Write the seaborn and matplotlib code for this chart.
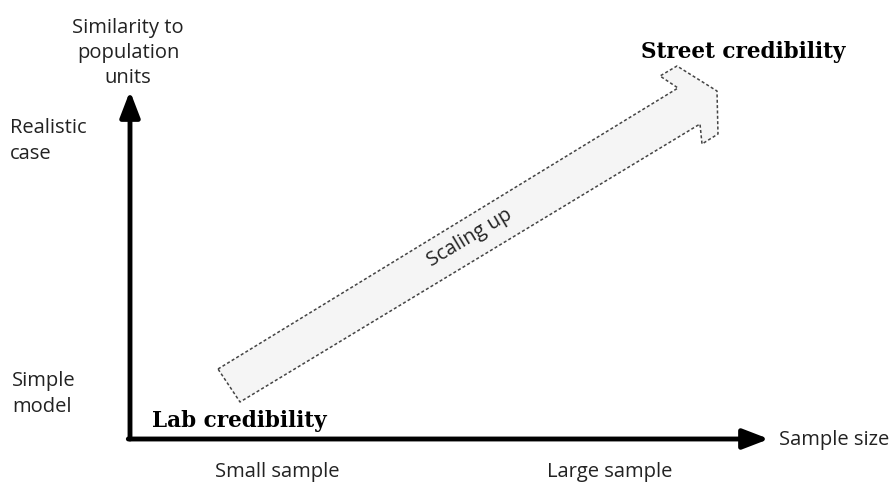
import matplotlib
matplotlib.use("Agg")
import matplotlib.pyplot as plt
import seaborn as sns
import pandas as pd
from matplotlib.patches import Polygon

# ---- data (conceptual diagram, pixel-space coordinates of the canvas) ----
axis_labels = ["Similarity to\npopulation\nunits", "Sample size"]
y_levels = ["Realistic\ncase", "Simple\nmodel"]
x_levels = ["Small sample", "Large sample"]
credibility = ["Lab credibility", "Street credibility"]
trend_label = "Scaling up"
# outline of the hollow "scaling up" block arrow
arrow_x = [218, 678, 660, 677, 717, 718, 702, 700, 240, 218]
arrow_y = [370, 89, 77, 67, 92, 135, 145, 125, 403, 370]

sns.set_theme(style="white")
plt.rcParams["font.family"] = ["Open Sans", "DejaVu Sans"]

W, H = 893, 485
fig = plt.figure(figsize=(W / 100, H / 100), dpi=100)
ax = fig.add_axes([0, 0, 1, 1])

# block arrow
ax.add_patch(Polygon(list(zip(arrow_x, arrow_y)), closed=True,
                     facecolor="#f5f5f5", edgecolor="none", zorder=1))
outline = pd.DataFrame({"x": arrow_x, "y": arrow_y, "o": range(len(arrow_x))})
sns.lineplot(data=outline, x="x", y="y", sort=False, estimator=None, ax=ax,
             color="#444444", linewidth=1.1, linestyle=(0, (2, 1.5)), zorder=2)
ax.set_xlim(0, W)
ax.set_ylim(H, 0)
ax.axis("off")

# axes arrows
ax.annotate("", xy=(130, 92), xytext=(130, 440),
            arrowprops=dict(arrowstyle="-|>,head_length=1.3,head_width=0.5",
                            lw=3.5, color="black", shrinkA=0, shrinkB=0))
ax.annotate("", xy=(769, 440), xytext=(128.3, 440),
            arrowprops=dict(arrowstyle="-|>,head_length=1.3,head_width=0.5",
                            lw=3.5, color="black", shrinkA=0, shrinkB=0))

fs = 14.5
tc = "#222222"
ax.text(128, 53, axis_labels[0], ha="center", va="center", fontsize=fs,
        linespacing=1.35, color=tc)
ax.text(779, 440, axis_labels[1], ha="left", va="center", fontsize=fs, color=tc)
ax.text(10, 141, y_levels[0], ha="left", va="center", fontsize=fs,
        linespacing=1.35, color=tc)
ax.text(12, 394, y_levels[1], ha="left", va="center", fontsize=fs,
        linespacing=1.35, color=tc)
ax.text(277, 472, x_levels[0], ha="center", va="center", fontsize=fs, color=tc)
ax.text(610, 472, x_levels[1], ha="center", va="center", fontsize=fs, color=tc)

ax.text(152, 421, credibility[0], ha="left", va="center", fontsize=15.5,
        family=["DejaVu Serif"], fontweight="bold", color="black")
ax.text(641, 52, credibility[1], ha="left", va="center", fontsize=15.5,
        family=["DejaVu Serif"], fontweight="bold", color="black")

ax.text(470, 238, trend_label, ha="center", va="center", fontsize=fs,
        rotation=31, rotation_mode="anchor", color=tc)

fig.savefig("out.png", dpi=100, facecolor="white")
